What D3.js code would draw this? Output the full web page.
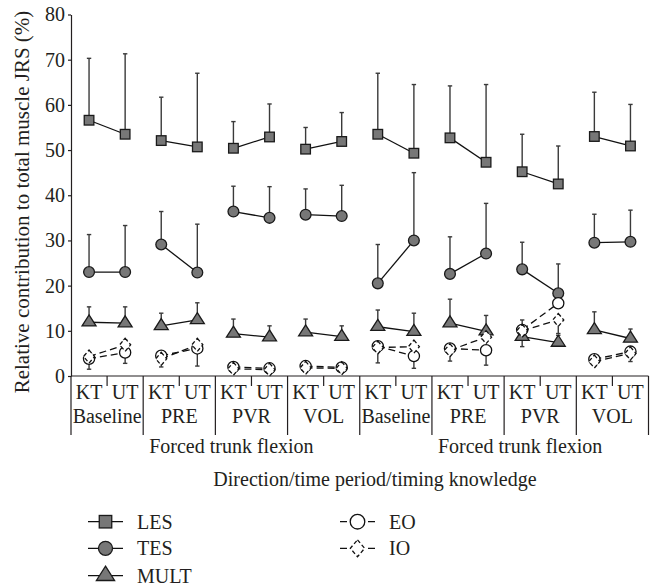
<!DOCTYPE html>
<html>
<head>
<meta charset="utf-8">
<script src="https://cdn.jsdelivr.net/npm/d3@7"></script>
<style>
  body { margin: 0; background: #fff; }
  svg { display: block; }
</style>
</head>
<body>
<div id="chart"></div>
<script>
// ---------- data ----------
const periods = ["Baseline", "PRE", "PVR", "VOL", "Baseline", "PRE", "PVR", "VOL"];
const timings = ["KT", "UT"];
const directions = ["Forced trunk flexion", "Forced trunk flexion"];
const yTicks = [0, 10, 20, 30, 40, 50, 60, 70, 80];
const yTitle = "Relative contribution to total muscle JRS (%)";
const xTitle = "Direction/time period/timing knowledge";

// means, 16 values (period x KT/UT)
const lesMean  = [56.6, 53.5, 52.1, 50.7, 50.4, 52.9, 50.2, 51.9, 53.5, 49.3, 52.7, 47.3, 45.2, 42.5, 53.0, 50.9];
const lesErr   = [70.3, 71.3, 61.7, 67.0, 56.3, 60.2, 55.0, 58.3, 67.0, 64.5, 64.2, 64.5, 53.5, 50.9, 62.8, 60.1];
const tesMean  = [23.0, 23.0, 29.1, 22.9, 36.4, 35.0, 35.7, 35.4, 20.5, 30.0, 22.6, 27.1, 23.6, 18.3, 29.5, 29.7];
const tesErr   = [31.3, 33.3, 36.4, 33.6, 42.0, 41.9, 41.4, 42.2, 29.1, 45.0, 30.8, 38.2, 29.6, 24.8, 35.8, 36.7];
const multMean = [11.9, 11.7, 11.1, 12.4, 9.4, 8.6, 9.7, 8.7, 10.9, 9.8, 11.7, 9.9, 8.7, 7.4, 10.2, 8.3];
const multErr  = [15.3, 15.3, 13.9, 16.2, 12.6, 11.1, 12.6, 11.1, 14.6, 13.9, 17.0, 13.4, 12.4, 9.0, 14.2, 10.4];
const eoMean   = [3.8, 5.2, 4.5, 6.1, 2.0, 1.7, 2.2, 1.9, 6.6, 4.4, 6.1, 5.7, 10.2, 16.1, 3.7, 5.4];
const eoErr    = [1.5, 2.8, 2.0, 2.2, null, null, null, null, 2.9, 1.7, 3.3, 2.4, 6.5, null, null, 3.2];
const ioMean   = [4.3, 6.9, 3.8, 6.9, 1.6, 1.4, 1.8, 1.7, 6.3, 6.5, 5.7, 8.6, 10.0, 12.4, 3.2, 5.0];
const ioErr    = [null, 8.0, null, null, null, null, null, null, null, null, null, 8.9, null, 9.4, null, null];
const seriesNames = ["LES", "TES", "MULT", "EO", "IO"];

// ---------- setup ----------
const FONT = '"Liberation Serif"';
const INK = "#231f20";
const W = 651, H = 588;
const svg = d3.select("#chart").append("svg").attr("width", W).attr("height", H);
function txt(g, x0, y0, s, anchor) {
  return g.append("text").attr("x", x0).attr("y", y0).attr("text-anchor", anchor || "middle")
    .style("font-family", FONT).attr("font-size", 20).attr("fill", INK).text(s);
}

const cats = d3.range(periods.length * timings.length);
const x = d3.scaleBand().domain(cats).range([71, 648.5]).padding(0);
const y = d3.scaleLinear().domain([0, 80]).range([376, 14.5]);
const cx = i => x(i) + x.bandwidth() / 2;

// ---------- y axis ----------
const yAxis = svg.append("g").attr("transform", "translate(71,0)")
  .call(d3.axisLeft(y).tickValues(yTicks).tickSize(3).tickSizeOuter(0).tickPadding(3));
yAxis.attr("font-family", null).attr("font-size", null);
yAxis.selectAll("path,line").attr("stroke", INK).attr("stroke-width", 1.2);
yAxis.selectAll("text").style("font-family", FONT).attr("font-size", 20).attr("fill", INK);

svg.append("text").attr("transform", `translate(29,202) rotate(-90)`)
  .attr("text-anchor", "middle").style("font-family", FONT).attr("font-size", 21)
  .attr("fill", INK).text(yTitle);

// ---------- category table ----------
const tbl = svg.append("g").attr("stroke", INK).attr("stroke-width", 1.2);
tbl.append("line").attr("x1", 71).attr("x2", 648.5).attr("y1", 376).attr("y2", 376);
const groupW = x.bandwidth() * 2;
for (let g = 0; g <= periods.length; g++) {
  const gx = x.range()[0] + g * groupW;
  tbl.append("line").attr("x1", gx).attr("x2", gx).attr("y1", 376).attr("y2", 435);
}
periods.forEach((p, g) => {
  const sx = x(g * 2 + 1);
  tbl.append("line").attr("x1", sx).attr("x2", sx).attr("y1", 376).attr("y2", 386);
  txt(svg, x(g * 2) + groupW / 2, 423, p);
});
cats.forEach(i => txt(svg, cx(i), 399, timings[i % 2]));
directions.forEach((d, k) => {
  const x0 = x(k * 8), x1 = x(k * 8 + 7) + x.bandwidth();
  txt(svg, (x0 + x1) / 2 + 16, 453, d);
});
txt(svg, 375, 486, xTitle);

// ---------- marker shapes ----------
function drawMarker(g, type, px, py, k) {
  k = k || 1;
  if (type === "LES") {
    const s = 9.6 * k;
    g.append("rect").attr("x", px - s / 2).attr("y", py - s / 2).attr("width", s).attr("height", s)
      .attr("fill", "#777").attr("stroke", "#1a1a1a").attr("stroke-width", 1.3);
  } else if (type === "TES") {
    g.append("circle").attr("cx", px).attr("cy", py).attr("r", 5.4 * k)
      .attr("fill", "#777").attr("stroke", "#1a1a1a").attr("stroke-width", 1.3);
  } else if (type === "MULT") {
    g.append("path").attr("d", `M0,${-7.3 * k}L${7 * k},${3.7 * k}L${-7 * k},${3.7 * k}Z`)
      .attr("transform", `translate(${px},${py})`)
      .attr("fill", "#777").attr("stroke", "#1a1a1a").attr("stroke-width", 1.3);
  } else if (type === "EO") {
    g.append("circle").attr("cx", px).attr("cy", py).attr("r", 5.6 * k)
      .attr("fill", "#fff").attr("stroke", "#111").attr("stroke-width", 1.3);
  } else if (type === "IO") {
    g.append("path").attr("d", `M0,${-6.5 * k}L${5.5 * k},0L0,${6.5 * k}L${-5.5 * k},0Z`)
      .attr("transform", `translate(${px},${py})`)
      .attr("fill", "#fff").attr("stroke", "#111").attr("stroke-width", 1.3)
      .attr("stroke-dasharray", "4,2.5");
  }
}

const series = [
  { name: "LES", mean: lesMean, err: lesErr, dash: null },
  { name: "TES", mean: tesMean, err: tesErr, dash: null },
  { name: "MULT", mean: multMean, err: multErr, dash: null },
  { name: "EO", mean: eoMean, err: eoErr, dash: "7,4" },
  { name: "IO", mean: ioMean, err: ioErr, dash: "7,4" }
];

const plot = svg.append("g");
// error bars
series.forEach(s => {
  s.err.forEach((e, i) => {
    if (e == null) return;
    const px = cx(i);
    plot.append("line").attr("x1", px).attr("x2", px).attr("y1", y(s.mean[i])).attr("y2", y(e))
      .attr("stroke", "#3a3a3a").attr("stroke-width", 1.4);
    plot.append("line").attr("x1", px - 2.2).attr("x2", px + 2.2).attr("y1", y(e)).attr("y2", y(e))
      .attr("stroke", "#3a3a3a").attr("stroke-width", 1.4);
  });
});
// connecting lines within each period
series.forEach(s => {
  periods.forEach((p, g) => {
    const a = g * 2, b = g * 2 + 1;
    const ln = plot.append("line").attr("x1", cx(a)).attr("y1", y(s.mean[a]))
      .attr("x2", cx(b)).attr("y2", y(s.mean[b]))
      .attr("stroke", "#111").attr("stroke-width", 1.3);
    if (s.dash) ln.attr("stroke-dasharray", s.dash);
  });
});
// markers
series.forEach(s => {
  s.mean.forEach((m, i) => drawMarker(plot, s.name, cx(i), y(m)));
});

// ---------- legend ----------
const legendItems = [
  { name: "LES", lx: 88, ly: 521.7 },
  { name: "TES", lx: 88, ly: 548.3 },
  { name: "MULT", lx: 88, ly: 575.7 },
  { name: "EO", lx: 340, ly: 521.7 },
  { name: "IO", lx: 340, ly: 548.3 }
];
const lg = svg.append("g");
legendItems.forEach(it => {
  const s = series.find(d => d.name === it.name);
  const l = lg.append("line").attr("x1", it.lx).attr("x2", it.lx + 35).attr("y1", it.ly).attr("y2", it.ly)
    .attr("stroke", "#111").attr("stroke-width", 1.3);
  if (s.dash) l.attr("stroke-dasharray", "7,21,7");
  drawMarker(lg, it.name, it.lx + 17.5, it.ly, 1.3);
  txt(lg, it.lx + 49, it.ly + 7, it.name, "start");
});
</script>
</body>
</html>
